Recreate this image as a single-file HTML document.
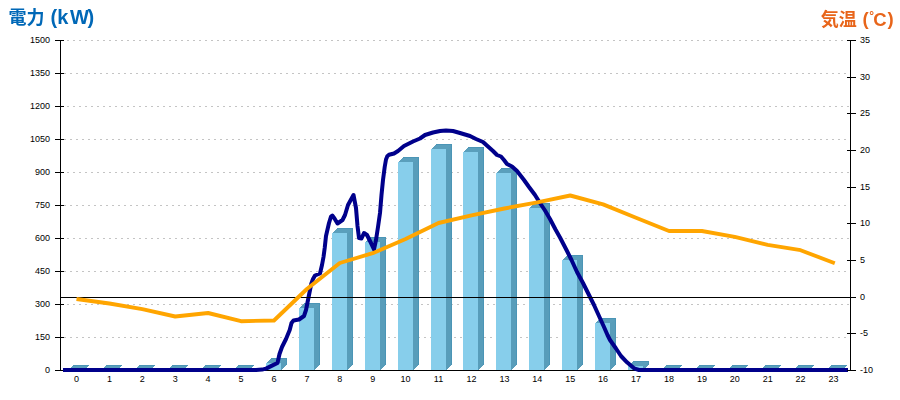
<!DOCTYPE html>
<html><head><meta charset="utf-8"><title>chart</title>
<style>html,body{margin:0;padding:0;background:#fff;}body{width:900px;height:400px;overflow:hidden;}svg{display:block;}text{font-family:"Liberation Sans",sans-serif;}</style>
</head><body>
<svg width="900" height="400" viewBox="0 0 900 400">
<rect x="0" y="0" width="900" height="400" fill="#ffffff"/>
<defs><filter id="g" x="0" y="0" width="900" height="400" filterUnits="userSpaceOnUse" color-interpolation-filters="sRGB"><feOffset dx="0" dy="0"/></filter></defs>
<g shape-rendering="crispEdges" stroke="#c4c4c4" stroke-width="1" stroke-dasharray="2 4">
<line x1="67" y1="40.5" x2="850" y2="40.5"/>
<line x1="64" y1="73.5" x2="850" y2="73.5"/>
<line x1="67" y1="106.5" x2="850" y2="106.5"/>
<line x1="64" y1="139.5" x2="850" y2="139.5"/>
<line x1="67" y1="172.5" x2="850" y2="172.5"/>
<line x1="64" y1="205.5" x2="850" y2="205.5"/>
<line x1="67" y1="238.5" x2="850" y2="238.5"/>
<line x1="64" y1="271.5" x2="850" y2="271.5"/>
<line x1="67" y1="304.5" x2="850" y2="304.5"/>
<line x1="64" y1="337.5" x2="850" y2="337.5"/>
</g>
<g shape-rendering="crispEdges" fill="#000">
<rect x="60" y="40" width="1" height="331"/>
<rect x="60" y="370" width="791" height="1"/>
<rect x="55" y="40" width="9" height="1"/>
<rect x="55" y="73" width="9" height="1"/>
<rect x="55" y="106" width="9" height="1"/>
<rect x="55" y="139" width="9" height="1"/>
<rect x="55" y="172" width="9" height="1"/>
<rect x="55" y="205" width="9" height="1"/>
<rect x="55" y="238" width="9" height="1"/>
<rect x="55" y="271" width="9" height="1"/>
<rect x="55" y="304" width="9" height="1"/>
<rect x="55" y="337" width="9" height="1"/>
<rect x="55" y="370" width="9" height="1"/>
</g>
<g shape-rendering="crispEdges">
<polygon points="83.0,370 89.0,365.0 89.0,364.5 83.0,370" fill="#589dba"/>
<rect x="88.0" y="365.0" width="1" height="0" fill="#4b95b6"/>
<polygon points="68,370 84.0,370 89.0,365.0 73.0,365.0" fill="#5a9fbc"/>
<rect x="73.0" y="365.0" width="16.0" height="1" fill="#4b95b6"/>
<polygon points="116.0,370 122.0,365.0 122.0,364.5 116.0,370" fill="#589dba"/>
<rect x="121.0" y="365.0" width="1" height="0" fill="#4b95b6"/>
<polygon points="101,370 117.0,370 122.0,365.0 106.0,365.0" fill="#5a9fbc"/>
<rect x="106.0" y="365.0" width="16.0" height="1" fill="#4b95b6"/>
<polygon points="149.0,370 155.0,365.0 155.0,364.5 149.0,370" fill="#589dba"/>
<rect x="154.0" y="365.0" width="1" height="0" fill="#4b95b6"/>
<polygon points="134,370 150.0,370 155.0,365.0 139.0,365.0" fill="#5a9fbc"/>
<rect x="139.0" y="365.0" width="16.0" height="1" fill="#4b95b6"/>
<polygon points="182.0,370 188.0,365.0 188.0,364.5 182.0,370" fill="#589dba"/>
<rect x="187.0" y="365.0" width="1" height="0" fill="#4b95b6"/>
<polygon points="167,370 183.0,370 188.0,365.0 172.0,365.0" fill="#5a9fbc"/>
<rect x="172.0" y="365.0" width="16.0" height="1" fill="#4b95b6"/>
<polygon points="215.0,370 221.0,365.0 221.0,364.5 215.0,370" fill="#589dba"/>
<rect x="220.0" y="365.0" width="1" height="0" fill="#4b95b6"/>
<polygon points="200,370 216.0,370 221.0,365.0 205.0,365.0" fill="#5a9fbc"/>
<rect x="205.0" y="365.0" width="16.0" height="1" fill="#4b95b6"/>
<polygon points="248.0,370 254.0,365.0 254.0,364.5 248.0,370" fill="#589dba"/>
<rect x="253.0" y="365.0" width="1" height="0" fill="#4b95b6"/>
<polygon points="233,370 249.0,370 254.0,365.0 238.0,365.0" fill="#5a9fbc"/>
<rect x="238.0" y="365.0" width="16.0" height="1" fill="#4b95b6"/>
<polygon points="281.0,363 287.0,358.0 287.0,364.5 281.0,370" fill="#589dba"/>
<rect x="286.0" y="358.0" width="1" height="7" fill="#4b95b6"/>
<polygon points="266,363 282.0,363 287.0,358.0 271.0,358.0" fill="#5a9fbc"/>
<rect x="271.0" y="358.0" width="16.0" height="1" fill="#4b95b6"/>
<rect x="266" y="363" width="15.0" height="7" fill="#87ceeb"/>
<polygon points="314.0,308 320.0,303.0 320.0,364.5 314.0,370" fill="#589dba"/>
<rect x="319.0" y="303.0" width="1" height="62" fill="#4b95b6"/>
<polygon points="299,308 315.0,308 320.0,303.0 304.0,303.0" fill="#5a9fbc"/>
<rect x="304.0" y="303.0" width="16.0" height="1" fill="#4b95b6"/>
<rect x="299" y="308" width="15.0" height="62" fill="#87ceeb"/>
<polygon points="347.0,233 353.0,228.0 353.0,364.5 347.0,370" fill="#589dba"/>
<rect x="352.0" y="228.0" width="1" height="137" fill="#4b95b6"/>
<polygon points="332,233 348.0,233 353.0,228.0 337.0,228.0" fill="#5a9fbc"/>
<rect x="337.0" y="228.0" width="16.0" height="1" fill="#4b95b6"/>
<rect x="332" y="233" width="15.0" height="137" fill="#87ceeb"/>
<polygon points="380.0,242 386.0,237.0 386.0,364.5 380.0,370" fill="#589dba"/>
<rect x="385.0" y="237.0" width="1" height="128" fill="#4b95b6"/>
<polygon points="365,242 381.0,242 386.0,237.0 370.0,237.0" fill="#5a9fbc"/>
<rect x="370.0" y="237.0" width="16.0" height="1" fill="#4b95b6"/>
<rect x="365" y="242" width="15.0" height="128" fill="#87ceeb"/>
<polygon points="413.0,162 419.0,157.0 419.0,364.5 413.0,370" fill="#589dba"/>
<rect x="418.0" y="157.0" width="1" height="208" fill="#4b95b6"/>
<polygon points="398,162 414.0,162 419.0,157.0 403.0,157.0" fill="#5a9fbc"/>
<rect x="403.0" y="157.0" width="16.0" height="1" fill="#4b95b6"/>
<rect x="398" y="162" width="15.0" height="208" fill="#87ceeb"/>
<polygon points="446.0,149 452.0,144.0 452.0,364.5 446.0,370" fill="#589dba"/>
<rect x="451.0" y="144.0" width="1" height="221" fill="#4b95b6"/>
<polygon points="431,149 447.0,149 452.0,144.0 436.0,144.0" fill="#5a9fbc"/>
<rect x="436.0" y="144.0" width="16.0" height="1" fill="#4b95b6"/>
<rect x="431" y="149" width="15.0" height="221" fill="#87ceeb"/>
<polygon points="478.0,152 484.0,147.0 484.0,364.5 478.0,370" fill="#589dba"/>
<rect x="483.0" y="147.0" width="1" height="218" fill="#4b95b6"/>
<polygon points="463,152 479.0,152 484.0,147.0 468.0,147.0" fill="#5a9fbc"/>
<rect x="468.0" y="147.0" width="16.0" height="1" fill="#4b95b6"/>
<rect x="463" y="152" width="15.0" height="218" fill="#87ceeb"/>
<polygon points="511.0,173 517.0,168.0 517.0,364.5 511.0,370" fill="#589dba"/>
<rect x="516.0" y="168.0" width="1" height="197" fill="#4b95b6"/>
<polygon points="496,173 512.0,173 517.0,168.0 501.0,168.0" fill="#5a9fbc"/>
<rect x="501.0" y="168.0" width="16.0" height="1" fill="#4b95b6"/>
<rect x="496" y="173" width="15.0" height="197" fill="#87ceeb"/>
<polygon points="544.0,208 550.0,203.0 550.0,364.5 544.0,370" fill="#589dba"/>
<rect x="549.0" y="203.0" width="1" height="162" fill="#4b95b6"/>
<polygon points="529,208 545.0,208 550.0,203.0 534.0,203.0" fill="#5a9fbc"/>
<rect x="534.0" y="203.0" width="16.0" height="1" fill="#4b95b6"/>
<rect x="529" y="208" width="15.0" height="162" fill="#87ceeb"/>
<polygon points="577.0,260 583.0,255.0 583.0,364.5 577.0,370" fill="#589dba"/>
<rect x="582.0" y="255.0" width="1" height="110" fill="#4b95b6"/>
<polygon points="562,260 578.0,260 583.0,255.0 567.0,255.0" fill="#5a9fbc"/>
<rect x="567.0" y="255.0" width="16.0" height="1" fill="#4b95b6"/>
<rect x="562" y="260" width="15.0" height="110" fill="#87ceeb"/>
<polygon points="610.0,323 616.0,318.0 616.0,364.5 610.0,370" fill="#589dba"/>
<rect x="615.0" y="318.0" width="1" height="47" fill="#4b95b6"/>
<polygon points="595,323 611.0,323 616.0,318.0 600.0,318.0" fill="#5a9fbc"/>
<rect x="600.0" y="318.0" width="16.0" height="1" fill="#4b95b6"/>
<rect x="595" y="323" width="15.0" height="47" fill="#87ceeb"/>
<polygon points="643.0,366 649.0,361.0 649.0,364.5 643.0,370" fill="#589dba"/>
<rect x="648.0" y="361.0" width="1" height="4" fill="#4b95b6"/>
<polygon points="628,366 644.0,366 649.0,361.0 633.0,361.0" fill="#5a9fbc"/>
<rect x="633.0" y="361.0" width="16.0" height="1" fill="#4b95b6"/>
<rect x="628" y="366" width="15.0" height="4" fill="#87ceeb"/>
<polygon points="676.0,370 682.0,365.0 682.0,364.5 676.0,370" fill="#589dba"/>
<rect x="681.0" y="365.0" width="1" height="0" fill="#4b95b6"/>
<polygon points="661,370 677.0,370 682.0,365.0 666.0,365.0" fill="#5a9fbc"/>
<rect x="666.0" y="365.0" width="16.0" height="1" fill="#4b95b6"/>
<polygon points="709.0,370 715.0,365.0 715.0,364.5 709.0,370" fill="#589dba"/>
<rect x="714.0" y="365.0" width="1" height="0" fill="#4b95b6"/>
<polygon points="694,370 710.0,370 715.0,365.0 699.0,365.0" fill="#5a9fbc"/>
<rect x="699.0" y="365.0" width="16.0" height="1" fill="#4b95b6"/>
<polygon points="742.0,370 748.0,365.0 748.0,364.5 742.0,370" fill="#589dba"/>
<rect x="747.0" y="365.0" width="1" height="0" fill="#4b95b6"/>
<polygon points="727,370 743.0,370 748.0,365.0 732.0,365.0" fill="#5a9fbc"/>
<rect x="732.0" y="365.0" width="16.0" height="1" fill="#4b95b6"/>
<polygon points="775.0,370 781.0,365.0 781.0,364.5 775.0,370" fill="#589dba"/>
<rect x="780.0" y="365.0" width="1" height="0" fill="#4b95b6"/>
<polygon points="760,370 776.0,370 781.0,365.0 765.0,365.0" fill="#5a9fbc"/>
<rect x="765.0" y="365.0" width="16.0" height="1" fill="#4b95b6"/>
<polygon points="808.0,370 814.0,365.0 814.0,364.5 808.0,370" fill="#589dba"/>
<rect x="813.0" y="365.0" width="1" height="0" fill="#4b95b6"/>
<polygon points="793,370 809.0,370 814.0,365.0 798.0,365.0" fill="#5a9fbc"/>
<rect x="798.0" y="365.0" width="16.0" height="1" fill="#4b95b6"/>
<polygon points="841.0,370 847.0,365.0 847.0,364.5 841.0,370" fill="#589dba"/>
<rect x="846.0" y="365.0" width="1" height="0" fill="#4b95b6"/>
<polygon points="826,370 842.0,370 847.0,365.0 831.0,365.0" fill="#5a9fbc"/>
<rect x="831.0" y="365.0" width="16.0" height="1" fill="#4b95b6"/>
</g>
<polyline points="63,370 256,370 262,369.6 266,368.6 272,365.6 277.5,363 279.5,354 282,347 286,339 289.7,330 291.5,323 293.5,320.5 299,319.5 304,316 306,310 308,300 310,290 311.2,284 313,279 315,275.5 320,273.5 322,265 323.5,257 324.7,248 326,236 329,223 331,216.5 332.3,215.5 334.5,218.5 337.5,223.5 342.5,220 345,215 348,205 353.5,195 356,208 357.5,226 359,238 361.5,238.5 364,233 367,235 371,243 374,249.3 376,240 378,227 380,213 381.5,195 383,180 384.7,167 386,159.5 387.3,156.3 389,154.8 394,153.5 398,151 404,146 413,141.5 420,138.5 425,135 433,132.5 440,131 446,130.5 453,131 460,133 470,136 476,139 483,142 488,146.5 493,151 497,155 501,156.5 504,160 507,164 512,166.5 517,171 524,180 529,187 535,195 540,203 545,210.5 550,219 555.5,229.5 560,237.5 567,251 571.5,260 577,272 583,283 589,295 594,305 599,316 604,327 607.5,335 610,340 616,348.5 621,356 627,362.3 634,368.3 639,370 848,370" fill="none" stroke="#00008b" stroke-width="4" stroke-linejoin="round" stroke-linecap="butt"/>
<g shape-rendering="crispEdges" fill="#000">
<rect x="850" y="40" width="1" height="331"/>
<rect x="60" y="297" width="791" height="1"/>
<rect x="847" y="40" width="9" height="1"/>
<rect x="847" y="77" width="9" height="1"/>
<rect x="847" y="113" width="9" height="1"/>
<rect x="847" y="150" width="9" height="1"/>
<rect x="847" y="187" width="9" height="1"/>
<rect x="847" y="223" width="9" height="1"/>
<rect x="847" y="260" width="9" height="1"/>
<rect x="847" y="297" width="9" height="1"/>
<rect x="847" y="333" width="9" height="1"/>
<rect x="847" y="370" width="9" height="1"/>
</g>
<polyline points="76.5,299 109.4,303.5 142.3,309.2 175.2,316.5 208.1,313 241.0,321.2 274.0,320.5 306.9,289 339.8,263 372.7,253.2 405.6,239 438.5,223 471.5,215.3 504.4,208.5 537.3,202.3 570.2,195.5 603.1,204.4 636.0,217.7 669.0,231 701.9,231 734.8,236.9 767.7,244.8 800.6,250.2 833.5,262.8 834.8,263.3" fill="none" stroke="#ffa500" stroke-width="3.9" stroke-linejoin="round" stroke-linecap="butt"/>
<g font-size="9px" fill="#000">
<text x="50" y="43" text-anchor="end">1500</text>
<text x="50" y="76" text-anchor="end">1350</text>
<text x="50" y="109" text-anchor="end">1200</text>
<text x="50" y="142" text-anchor="end">1050</text>
<text x="50" y="175" text-anchor="end">900</text>
<text x="50" y="208" text-anchor="end">750</text>
<text x="50" y="241" text-anchor="end">600</text>
<text x="50" y="274" text-anchor="end">450</text>
<text x="50" y="307" text-anchor="end">300</text>
<text x="50" y="340" text-anchor="end">150</text>
<text x="50" y="373" text-anchor="end">0</text>
<text x="860" y="43" text-anchor="start">35</text>
<text x="860" y="80" text-anchor="start">30</text>
<text x="860" y="116" text-anchor="start">25</text>
<text x="860" y="153" text-anchor="start">20</text>
<text x="860" y="190" text-anchor="start">15</text>
<text x="860" y="226" text-anchor="start">10</text>
<text x="860" y="263" text-anchor="start">5</text>
<text x="860" y="300" text-anchor="start">0</text>
<text x="860" y="336" text-anchor="start">-5</text>
<text x="860" y="373" text-anchor="start">-10</text>
<text x="76.5" y="382" text-anchor="middle">0</text>
<text x="109.4" y="382" text-anchor="middle">1</text>
<text x="142.3" y="382" text-anchor="middle">2</text>
<text x="175.2" y="382" text-anchor="middle">3</text>
<text x="208.1" y="382" text-anchor="middle">4</text>
<text x="241.0" y="382" text-anchor="middle">5</text>
<text x="274.0" y="382" text-anchor="middle">6</text>
<text x="306.9" y="382" text-anchor="middle">7</text>
<text x="339.8" y="382" text-anchor="middle">8</text>
<text x="372.7" y="382" text-anchor="middle">9</text>
<text x="405.6" y="382" text-anchor="middle">10</text>
<text x="438.5" y="382" text-anchor="middle">11</text>
<text x="471.5" y="382" text-anchor="middle">12</text>
<text x="504.4" y="382" text-anchor="middle">13</text>
<text x="537.3" y="382" text-anchor="middle">14</text>
<text x="570.2" y="382" text-anchor="middle">15</text>
<text x="603.1" y="382" text-anchor="middle">16</text>
<text x="636.0" y="382" text-anchor="middle">17</text>
<text x="669.0" y="382" text-anchor="middle">18</text>
<text x="701.9" y="382" text-anchor="middle">19</text>
<text x="734.8" y="382" text-anchor="middle">20</text>
<text x="767.7" y="382" text-anchor="middle">21</text>
<text x="800.6" y="382" text-anchor="middle">22</text>
<text x="833.5" y="382" text-anchor="middle">23</text>
</g>
<g filter="url(#g)">
<text x="8.4" y="23.8" font-size="18px" font-weight="bold" fill="#0068b7" style="font-family:'Liberation Sans','Noto Sans CJK JP',sans-serif;">電力</text>
<g font-size="20px" font-weight="bold" fill="#0068b7">
<text x="50.4" y="24">(</text>
<text x="57.2" y="24">k</text>
<text x="70" y="24">W</text>
<text x="87.6" y="24">)</text>
</g>
<text x="820.7" y="26" font-size="18px" font-weight="bold" fill="#e8651a" style="font-family:'Liberation Sans','Noto Sans CJK JP',sans-serif;">気温</text>
<g font-weight="bold" fill="#e8651a">
<text x="862.4" y="25.2" font-size="18.5px">(</text>
<text x="869.2" y="19.6" font-size="12px">°</text>
<text x="873.2" y="26" font-size="18.5px">C</text>
<text x="887.6" y="25.2" font-size="18.5px">)</text>
</g>
</g>
</svg>
</body></html>
